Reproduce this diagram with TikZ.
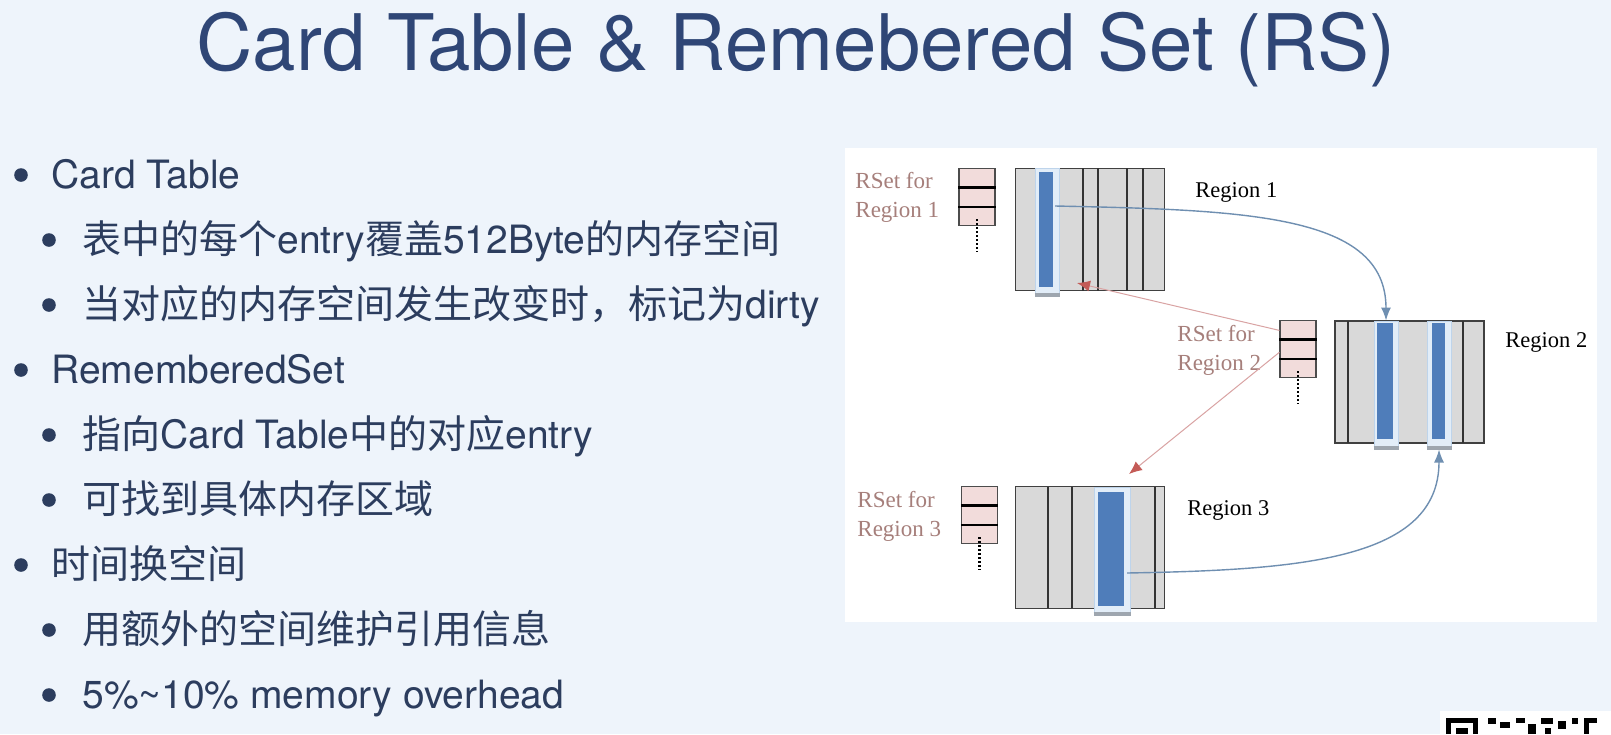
\documentclass[tikz,border=0pt]{standalone}
\usepackage{fontspec}
\setmainfont{TeX Gyre Heros}
\newfontfamily\cjk{Noto Sans CJK SC}
\newfontfamily\diagserif{Liberation Serif}
\usetikzlibrary{calc,arrows.meta}
\definecolor{slidebg}{HTML}{EEF4FB}
\definecolor{titleblue}{HTML}{2F4676}
\definecolor{bodyblue}{HTML}{2C3D5E}
\definecolor{regiongray}{HTML}{D9D9D9}
\definecolor{glowfill}{HTML}{E2EDF8}
\definecolor{glowedge}{HTML}{BED4EB}
\definecolor{cardblue}{HTML}{4F7DBA}
\definecolor{rsetpink}{HTML}{F2DCDB}
\definecolor{rsettext}{HTML}{A67F7B}
\definecolor{refblue}{HTML}{6F8FB1}
\definecolor{backred}{HTML}{D9A3A3}
\definecolor{tipred}{HTML}{C45B57}
\definecolor{stripgray}{HTML}{9EA6AF}

\begin{document}
\begin{tikzpicture}[x=0.5pt,y=-0.5pt,
		heading/.style={anchor=base,text=titleblue,font=\fontsize{39}{44}\selectfont,inner sep=0pt},
		item/.style={anchor=base west,text=bodyblue,font=\fontsize{19.5}{24}\selectfont,inner sep=0pt},
		region/.style={draw=black!75,fill=regiongray,line width=0.6pt,minimum width=74.5pt,minimum height=61pt,inner sep=0pt},
		glow/.style={draw=glowedge,fill=glowfill,line width=0.5pt,inner sep=0pt,minimum height=64pt},
		card/.style={fill=cardblue,inner sep=0pt,minimum height=57.5pt},
		strip/.style={draw=stripgray,line width=2pt},
		rset/.style={draw=black!70,fill=rsetpink,line width=0.6pt,minimum width=18pt,minimum height=28.5pt,inner sep=0pt},
		rsetlabel/.style={anchor=north west,text=rsettext,font=\diagserif\fontsize{11.5}{14.5}\selectfont,align=left,inner sep=0pt},
		regionlabel/.style={anchor=base west,font=\diagserif\fontsize{11.25}{13}\selectfont,inner sep=0pt},
		ref/.style={draw=refblue,line width=0.7pt,-{Latex[length=6.5pt,width=5pt]}},
		back/.style={draw=backred,line width=0.5pt,-{Latex[length=6.5pt,width=5.5pt,color=tipred]}}
		]
		\useasboundingbox (0,0) rectangle (1611,734);
		\fill[slidebg] (0,0) rectangle (1611,734);
		\fill[white] (845,148) rectangle (1597,622);

		\node[heading] (title) at (796,70) {Card Table \& Remebered Set (RS)};

		\node[item] (t1) at (51,188) {Card Table};
		\node[item] (t2) at (82,253) {{\cjk 表中的每个}entry{\cjk 覆盖}512Byte{\cjk 的内存空间}};
		\node[item] (t3) at (82,318) {{\cjk 当对应的内存空间发生改变时，标记为}dirty};
		\node[item] (t4) at (51,383) {RememberedSet};
		\node[item] (t5) at (82,448) {{\cjk 指向}Card Table{\cjk 中的对应}entry};
		\node[item] (t6) at (82,513) {{\cjk 可找到具体内存区域}};
		\node[item] (t7) at (51,578) {{\cjk 时间换空间}};
		\node[item] (t8) at (82,643) {{\cjk 用额外的空间维护引用信息}};
		\node[item] (t9) at (82,708) {5\%\textasciitilde10\% memory overhead};
		\foreach \t in {t1,t4,t7}
			\fill[bodyblue] ([xshift=-15pt,yshift=6.5pt]\t.base west) circle (3.4pt);
		\foreach \t in {t2,t3,t5,t6,t8,t9}
			\fill[bodyblue] ([xshift=-16.5pt,yshift=6.5pt]\t.base west) circle (3.4pt);

		\node[region] (r1) at (1090,229.5) {};
		\node[region] (r2) at (1409.5,382) {};
		\node[region] (r3) at (1090,547.5) {};
		\foreach \x in {1083,1098,1127,1143} \draw[black!80,line width=0.6pt] (\x,168) -- (\x,291);
		\foreach \x in {1348,1463} \draw[black!80,line width=0.6pt] (\x,321) -- (\x,443);
		\foreach \x in {1048,1072,1155} \draw[black!80,line width=0.6pt] (\x,487) -- (\x,608);

		\node[glow,minimum width=12pt] (r1g) at (1047,232.5) {};
		\node[glow,minimum width=12pt] (r2gA) at (1386,385) {};
		\node[glow,minimum width=12pt] (r2gB) at (1439,385) {};
		\node[glow,minimum width=18pt] (r3g) at (1112,551) {};
		\foreach \g in {r1g,r2gA,r2gB,r3g}
			\draw[strip] ([yshift=1pt]\g.south west) -- ([yshift=1pt]\g.south east);
		\node[card,minimum width=7pt] (r1bar) at (1046,229.5) {};
		\node[card,minimum width=8pt,minimum height=58pt] (r2barA) at (1385,381) {};
		\node[card,minimum width=6.5pt,minimum height=58pt] (r2barB) at (1438.5,381) {};
		\node[card,minimum width=13pt,minimum height=57pt] (r3bar) at (1111,549) {};

		\node[rset] (rs1) at (977,197) {};
		\node[rset] (rs2) at (1298,349) {};
		\node[rset] (rs3) at (979.5,515) {};
		\foreach \b in {rs1,rs2,rs3} {
			\draw[line width=1.2pt] ($(\b.north west)!1/3!(\b.south west)$) -- ($(\b.north east)!1/3!(\b.south east)$);
			\draw[line width=1.2pt] ($(\b.north west)!2/3!(\b.south west)$) -- ($(\b.north east)!2/3!(\b.south east)$);
			\draw[line width=1.2pt,dash pattern=on 1pt off 1pt] ($(\b.south)+(0,-7)$) -- ++(0,33);
		}

		\node[rsetlabel] (rsl1) at (855,172) {RSet for\\Region 1};
		\node[rsetlabel] (rsl2) at (1177,325) {RSet for\\Region 2};
		\node[rsetlabel] (rsl3) at (857,491) {RSet for\\Region 3};
		\node[regionlabel] (rl1) at (1195,197) {Region 1};
		\node[regionlabel] (rl2) at (1505,347) {Region 2};
		\node[regionlabel] (rl3) at (1187,515) {Region 3};

		\coordinate (r1out) at (1055,206);
		\coordinate (r3out) at (1127,573);
		\coordinate (r1in) at (1077,283);
		\coordinate (r3in) at (1129,474);
		\draw[ref] (r1out) .. controls (1250,210) and (1386,215) .. (r2gA.north);
		\draw[ref] (r3out) .. controls (1300,570) and (1439,560) .. (r2gB.south);
		\draw[back] (rs2.135) -- (r1in);
		\draw[back] (rs2.190) -- (r3in);

		\fill[white] (1440,711) rectangle (1611,734);
		\fill[black] (1446,718) rectangle (1478,734);
		\fill[white] (1451,723) rectangle (1473,734);
		\fill[black] (1456,728) rectangle (1468,734);
		\foreach \x/\y/\w/\h in {1488/718/8/6,1500/722/10/6,1516/718/9/5,1528/724/8/10,1541/718/12/6,1545/728/6/6,1558/721/8/8,1572/718/6/6,1584/718/13/16}
			\fill[black] (\x,\y) rectangle ++(\w,\h);
		\fill[white] (1589,723) rectangle (1597,734);
	\end{tikzpicture}
\end{document}
